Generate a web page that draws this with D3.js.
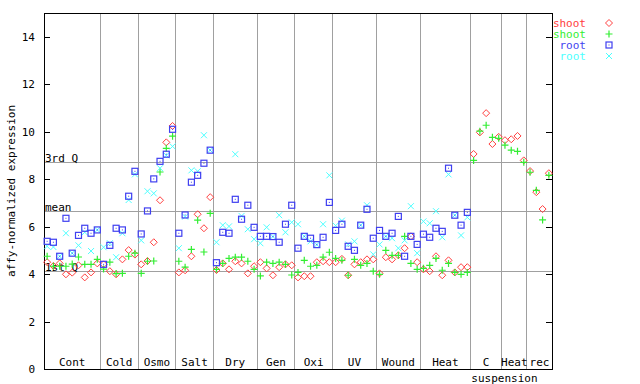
<!DOCTYPE html>
<html lang="en">
  <head>
    <meta charset="utf-8">
    <title>expression</title>
    <style>
      body { margin: 0; background: #fff; }
      text { font-family: 'DejaVu Sans Mono', monospace; font-size: 11px; }
    </style>
    <script src="https://cdn.jsdelivr.net/npm/d3@7"></script>
  </head>
  <body>
    <div id="viz"></div>
    <script>

    // groups along the x axis (sample counts per group)
    var groupNames = ['Cont','Cold','Osmo','Salt','Dry','Gen','Oxi','UV','Wound','Heat','C','Heat','rec'];
    var groupSizes = [9, 6, 6, 6, 7, 6, 6, 7, 7, 8, 5, 4, 4];

    var yTicks = [0, 2, 4, 6, 8, 10, 12, 14];

    var refNames = ['3rd Q', 'mean', '1st Q'];
    var refValues = [8.68, 6.62, 4.09];

    // shoot replicate 1 (red) - all 81 samples
    var shootA = [4.50,4.34,4.45,3.99,4.06,4.37,3.86,4.07,4.45,
      4.41,4.12,3.99,4.62,5.01,4.82,
      4.41,4.55,5.34,7.11,9.55,10.24,
      4.07,4.16,4.75,6.52,5.93,7.24,
      4.17,4.45,4.20,4.54,4.45,4.03,4.33,
      4.50,4.24,3.95,4.29,4.41,4.37,
      3.86,3.91,3.91,4.50,4.54,4.50,
      4.50,4.64,3.95,4.41,4.50,4.62,4.62,
      4.03,4.71,4.62,4.79,5.09,5.59,4.50,
      4.20,4.12,4.75,3.95,4.58,4.07,4.29,4.29,
      9.06,9.97,10.78,9.48,9.78,
      9.64,9.68,9.82,8.79,
      8.34,7.45,6.74,8.25];

    // shoot replicate 2 (green)
    var shootB = [4.75,4.33,4.33,4.33,4.42,4.72,4.41,4.41,4.62,
      4.21,4.50,4.02,4.03,4.75,4.88,
      4.03,4.54,4.55,8.30,9.30,9.81,
      4.54,4.29,5.04,6.27,4.93,6.56,
      4.20,4.45,4.66,4.71,4.71,4.54,4.20,
      3.92,4.50,4.45,4.50,4.41,3.96,
      4.07,4.58,4.33,4.37,4.71,4.92,
      4.66,4.58,3.95,4.62,4.37,4.45,4.12,
      3.99,5.00,4.79,4.79,5.59,4.45,4.20,
      4.24,4.37,4.66,4.16,4.45,4.07,3.99,4.07,
      8.79,10.02,10.27,9.76,9.72,
      9.43,9.22,9.17,8.71,
      8.29,7.53,6.28,8.16];

    // root replicate 1 (blue) - tissue samples only
    var rootA = [5.38,5.34,4.75,6.35,4.88,5.63,5.93,5.72,5.86,
      4.41,5.21,5.93,5.86,7.28,8.33,
      5.69,6.66,8.01,8.75,9.05,10.10,
      5.72,6.49,7.87,8.16,8.67,9.22,
      4.48,5.76,5.72,7.15,6.31,6.90,5.97,
      5.59,5.59,5.58,5.34,6.10,6.90,
      5.09,5.59,5.51,5.24,5.55,7.02,
      5.84,6.10,5.17,5.00,6.06,6.73,5.51,
      5.84,5.59,5.72,6.43,4.75,5.59,5.25,
      5.68,5.55,5.93,5.80,8.46,6.48,6.06,6.60];

    // root replicate 2 (cyan)
    var rootB = [5.17,5.14,4.75,5.72,4.88,5.21,5.76,4.97,5.86,
      5.13,5.30,4.71,5.72,7.12,8.20,
      5.42,7.49,7.40,8.46,9.00,9.38,
      5.09,6.42,8.37,8.33,9.85,9.22,
      5.34,6.06,6.01,9.05,6.45,5.89,5.47,
      5.30,5.97,5.58,6.48,5.76,6.18,
      6.10,5.59,5.38,5.24,6.10,8.16,
      6.04,6.25,5.25,5.38,6.06,6.90,4.83,
      5.25,5.59,5.51,5.09,5.42,6.86,4.88,
      6.22,6.14,6.65,5.55,8.20,6.48,5.63,6.39];

    var seriesNames = ['shoot', 'shoot', 'root', 'root'];
    var seriesColors = ['#ff4040', '#33ee33', '#3f3ff0', '#4cffff'];

    var W = 640, H = 384;
    var plotL = 44, plotR = 552, plotT = 13, plotB = 369;
    var nSamples = d3.sum(groupSizes);

    var x = d3.scaleLinear().domain([0, nSamples]).range([plotL, plotR]);
    var y = d3.scaleLinear().domain([0, 15]).range([plotB, plotT]);

    var svg = d3.select('#viz')
        .append('svg')
        .attr('width', W)
        .attr('height', H);

    // group boundaries
    var bounds = [0];
    groupSizes.forEach(function(s, i) { bounds.push(bounds[i] + s); });

    var grid = svg.append('g')
        .attr('stroke', '#a0a0a0')
        .attr('shape-rendering', 'crispEdges');

    grid.selectAll('line.v')
      .data(bounds.slice(1, -1))
      .enter().append('line')
        .attr('x1', function(d) { return x(d); })
        .attr('x2', function(d) { return x(d); })
        .attr('y1', y(0))
        .attr('y2', y(15));

    grid.selectAll('line.h')
      .data(refValues)
      .enter().append('line')
        .attr('x1', plotL)
        .attr('x2', plotR)
        .attr('y1', function(d) { return y(d); })
        .attr('y2', function(d) { return y(d); });

    svg.append('g').selectAll('text')
      .data(refValues)
      .enter().append('text')
        .attr('x', plotL + 1)
        .attr('y', function(d) { return y(d) - 1; })
        .text(function(d, i) { return refNames[i]; });

    // frame
    svg.append('rect')
        .attr('x', plotL).attr('y', plotT)
        .attr('width', plotR - plotL).attr('height', plotB - plotT)
        .attr('fill', 'none').attr('stroke', '#000')
        .attr('shape-rendering', 'crispEdges');

    // y axes, ticks inward on both sides
    var yAxisL = svg.append('g')
        .attr('transform', 'translate(' + plotL + ',0)')
        .call(d3.axisRight(y).tickValues(yTicks).tickSize(6).tickFormat(''));
    var yAxisR = svg.append('g')
        .attr('transform', 'translate(' + plotR + ',0)')
        .call(d3.axisLeft(y).tickValues(yTicks).tickSize(6).tickFormat(''));
    [yAxisL, yAxisR].forEach(function(a) {
      a.select('.domain').remove();
      a.selectAll('line').attr('stroke', '#000').attr('shape-rendering', 'crispEdges');
    });

    svg.append('g').selectAll('text')
      .data(yTicks)
      .enter().append('text')
        .attr('x', 35)
        .attr('y', function(d) { return y(d) + 4; })
        .attr('text-anchor', 'end')
        .text(function(d) { return d; });

    svg.append('text')
        .attr('transform', 'translate(15,' + ((plotT + plotB) / 2) + ') rotate(-90)')
        .attr('text-anchor', 'middle')
        .text('affy-normalized expression');

    // group labels
    svg.append('g').selectAll('text')
      .data(groupNames)
      .enter().append('text')
        .attr('x', function(d, i) { return x((bounds[i] + bounds[i + 1]) / 2); })
        .attr('y', 366)
        .attr('text-anchor', 'middle')
        .text(function(d) { return d; });

    svg.append('text')
        .attr('x', x(bounds[10]) + 34)
        .attr('y', 382)
        .attr('text-anchor', 'middle')
        .text('suspension');

    // markers
    function diamond(g, c) {
      g.append('path').attr('d', 'M0,-3.5L3.5,0L0,3.5L-3.5,0Z')
        .attr('fill', 'none').attr('stroke', c);
    }
    function plus(g, c) {
      g.append('path').attr('d', 'M-3.5,0H3.5M0,-3.5V3.5')
        .attr('fill', 'none').attr('stroke', c).attr('stroke-width', 1.2);
    }
    function square(g, c) {
      g.append('rect').attr('x', -3).attr('y', -3).attr('width', 6).attr('height', 6)
        .attr('fill', 'none').attr('stroke', c).attr('stroke-width', 1.2);
      g.append('rect').attr('x', -0.5).attr('y', -0.5).attr('width', 1).attr('height', 1)
        .attr('fill', c);
    }
    function cross(g, c) {
      g.append('path').attr('d', 'M-3,-3L3,3M-3,3L3,-3')
        .attr('fill', 'none').attr('stroke', c);
    }
    var markers = [diamond, plus, square, cross];
    var allSeries = [shootA, shootB, rootA, rootB];

    // draw in order so that later series sit on top
    [0, 1, 3, 2].forEach(function(si) {
      svg.append('g').selectAll('g')
        .data(allSeries[si])
        .enter().append('g')
          .attr('transform', function(d, i) { return 'translate(' + x(i + 0.5) + ',' + y(d) + ')'; })
          .each(function() { markers[si](d3.select(this), seriesColors[si]); });
    });

    // legend
    var legend = svg.append('g').style('font-size', '10.5px');
    seriesNames.forEach(function(name, i) {
      var ly = 23 + i * 11;
      legend.append('text')
        .attr('x', 586)
        .attr('y', ly + 4)
        .attr('text-anchor', 'end')
        .attr('fill', seriesColors[i])
        .text(name);
      var g = legend.append('g').attr('transform', 'translate(609,' + ly + ')');
      markers[i](g, seriesColors[i]);
    });
    </script>
  </body>
</html>
